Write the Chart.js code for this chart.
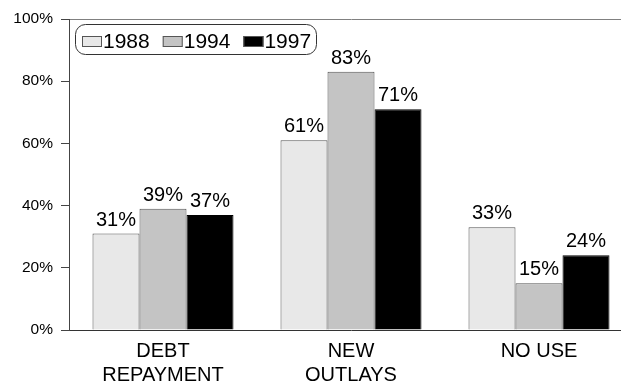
<!DOCTYPE html>
<html>
<head>
<meta charset="utf-8">
<script src="https://cdn.jsdelivr.net/npm/chart.js@4/dist/chart.umd.min.js"></script>
<style>
    html, body { margin: 0; padding: 0; background: #fff; overflow: hidden; }
    #wrap { width: 640px; height: 383px; }
</style>
</head>
<body>
<div id="wrap"><canvas id="use-chart" width="640" height="383"></canvas></div>
<script>
const categories = [['DEBT', 'REPAYMENT'], ['NEW', 'OUTLAYS'], 'NO USE'];
const years = ['1988', '1994', '1997'];
const values1988 = [31, 61, 33];
const values1994 = [39, 83, 15];
const values1997 = [37, 71, 24];
const fills = ['#e8e8e8', '#c4c4c4', '#000000'];
const yTicks = [0, 20, 40, 60, 80, 100];

const FONT = "'Liberation Sans', Arial, sans-serif";

// value labels above each bar
const barLabels = {
    id: 'barLabels',
    afterDatasetsDraw(chart) {
        const ctx = chart.ctx;
        ctx.save();
        ctx.font = `20px ${FONT}`;
        ctx.fillStyle = '#000';
        ctx.textAlign = 'center';
        ctx.textBaseline = 'alphabetic';
        chart.data.datasets.forEach((ds, i) => {
            chart.getDatasetMeta(i).data.forEach((bar, j) => {
                ctx.fillText(ds.data[j] + '%', bar.x, bar.y - 8);
            });
        });
        ctx.restore();
    }
};

// boxed legend in the top-left corner of the plot
const boxLegend = {
    id: 'boxLegend',
    afterDraw(chart) {
        const ctx = chart.ctx;
        const left = 75.5, top = 24.5, w = 241, h = 30, r = 10;
        ctx.save();
        ctx.strokeStyle = '#333';
        ctx.lineWidth = 1;
        ctx.beginPath();
        ctx.roundRect(left, top, w, h, r);
        ctx.stroke();

        ctx.font = `21px ${FONT}`;
        ctx.textBaseline = 'alphabetic';
        ctx.textAlign = 'left';
        let x = 82;
        chart.data.datasets.forEach(ds => {
            ctx.fillStyle = ds.backgroundColor;
            ctx.fillRect(x, 36, 20, 11);
            ctx.strokeStyle = '#555';
            ctx.strokeRect(x + 0.5, 36.5, 19, 10);
            ctx.fillStyle = '#000';
            ctx.fillText(ds.label, x + 21, 48);
            x += 21 + ctx.measureText(ds.label).width + 13;
        });
        ctx.restore();
    }
};

const series = [values1988, values1994, values1997];

new Chart(document.getElementById('use-chart'), {
    type: 'bar',
    data: {
        labels: categories,
        datasets: years.map((y, i) => ({
            label: y,
            data: series[i],
            backgroundColor: fills[i],
            borderColor: i === 2 ? '#000' : '#555',
            borderWidth: 1,
            categoryPercentage: 0.75,
            barPercentage: 1.0
        }))
    },
    options: {
        responsive: false,
        animation: false,
        layout: { padding: { top: 19, right: 7, left: 0, bottom: 0 } },
        plugins: {
            legend: { display: false },
            tooltip: { enabled: false }
        },
        scales: {
            x: {
                grid: { display: false, drawTicks: false },
                border: { display: true, color: '#333', width: 1 },
                ticks: {
                    color: '#000',
                    font: { family: FONT, size: 20 },
                    padding: 9,
                    maxRotation: 0,
                    autoSkip: false
                },
                afterFit(scale) { scale.height = 53; }
            },
            y: {
                min: 0,
                max: 100,
                afterBuildTicks(scale) { scale.ticks = yTicks.map(v => ({ value: v })); },
                grid: {
                    drawOnChartArea: true,
                    color: ctx => ctx.tick && ctx.tick.value === 100 ? '#808080' : 'rgba(0,0,0,0)',
                    tickColor: '#444',
                    tickLength: 8,
                    lineWidth: 1
                },
                border: { display: true, color: '#444', width: 1 },
                ticks: {
                    color: '#000',
                    font: { family: FONT, size: 15.5 },
                    padding: 8,
                    callback: v => v + '%'
                },
                afterFit(scale) { scale.width = 69; }
            }
        }
    },
    plugins: [barLabels, boxLegend]
});
</script>
</body>
</html>
